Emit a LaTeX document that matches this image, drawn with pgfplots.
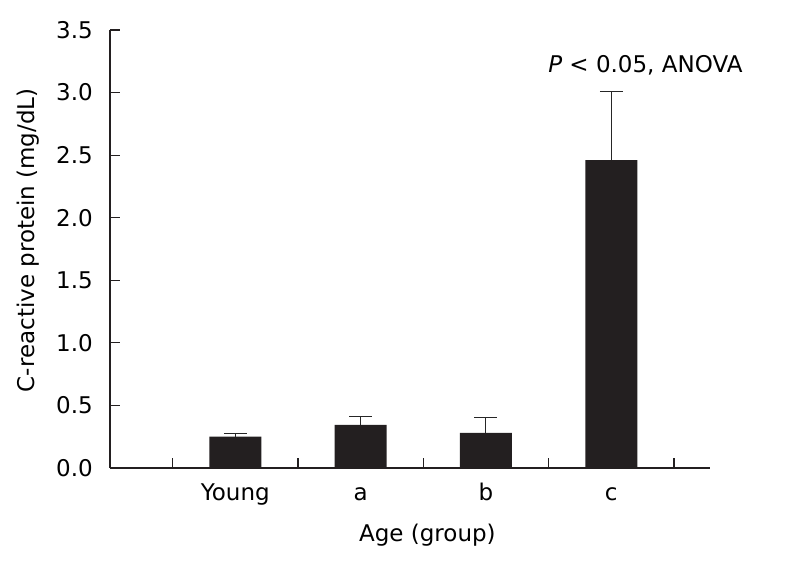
\documentclass[border=0pt]{standalone}
\usepackage{pgfplots}
\pgfplotsset{compat=1.18}
\usepackage{fontspec}
\setmainfont{DejaVu Sans}
\definecolor{barc}{HTML}{231F20}
\definecolor{axc}{HTML}{231F20}
\begin{document}
\begin{tikzpicture}
\useasboundingbox (-110pt,-96pt) rectangle (677pt,468pt);
\begin{axis}[
  at={(0pt,0pt)}, anchor=south west,
  scale only axis, width=600pt, height=438pt,
  xmin=0, xmax=4.788, ymin=0, ymax=3.5,
  axis lines*=left,
  axis line style={line width=1.2pt, color=axc},
  tick style={line width=1.2pt, color=axc},
  tick align=inside, major tick length=10pt,
  font=\fontsize{23}{27}\selectfont,
  /pgf/number format/assume math mode=true,
  ytick={0,0.5,1,1.5,2,2.5,3,3.5},
  yticklabel style={/pgf/number format/fixed, /pgf/number format/fixed zerofill, /pgf/number format/precision=1, anchor=east, inner sep=0pt, xshift=-17pt},
  xtick={0.5,1.5,2.5,3.5,4.5}, xticklabels={},
  extra x ticks={1,2,3,4},
  extra x tick labels={Young,a,b,c},
  extra x tick style={major tick length=0pt, tick label style={anchor=base, inner sep=0pt, yshift=-33pt}},
  xlabel={Age (group)},
  ylabel={C-reactive protein (mg/dL)},
  xlabel style={at={(axis description cs:0.529,-0.1667)}, anchor=base, inner sep=0pt},
  ylabel style={at={(axis description cs:-0.137,0.52)}, anchor=center, inner sep=0pt},
  clip=false,
]
\addplot[ybar, bar width=52pt, fill=barc, draw=none,
  error bars/.cd, y dir=plus, y explicit,
  error bar style={line width=1pt, color=black!85},
  error mark options={rotate=90, mark size=11.5pt, line width=1pt, color=black!85}]
coordinates {
  (1,0.25) +- (0,0.028)
  (2,0.345) +- (0,0.07)
  (3,0.28) +- (0,0.12)
  (4,2.46) +- (0,0.545)
};
\node[anchor=base west, inner sep=0pt] at (axis cs:3.496,3.157) {\textit{P} < 0.05, ANOVA};
\end{axis}
\end{tikzpicture}
\end{document}
